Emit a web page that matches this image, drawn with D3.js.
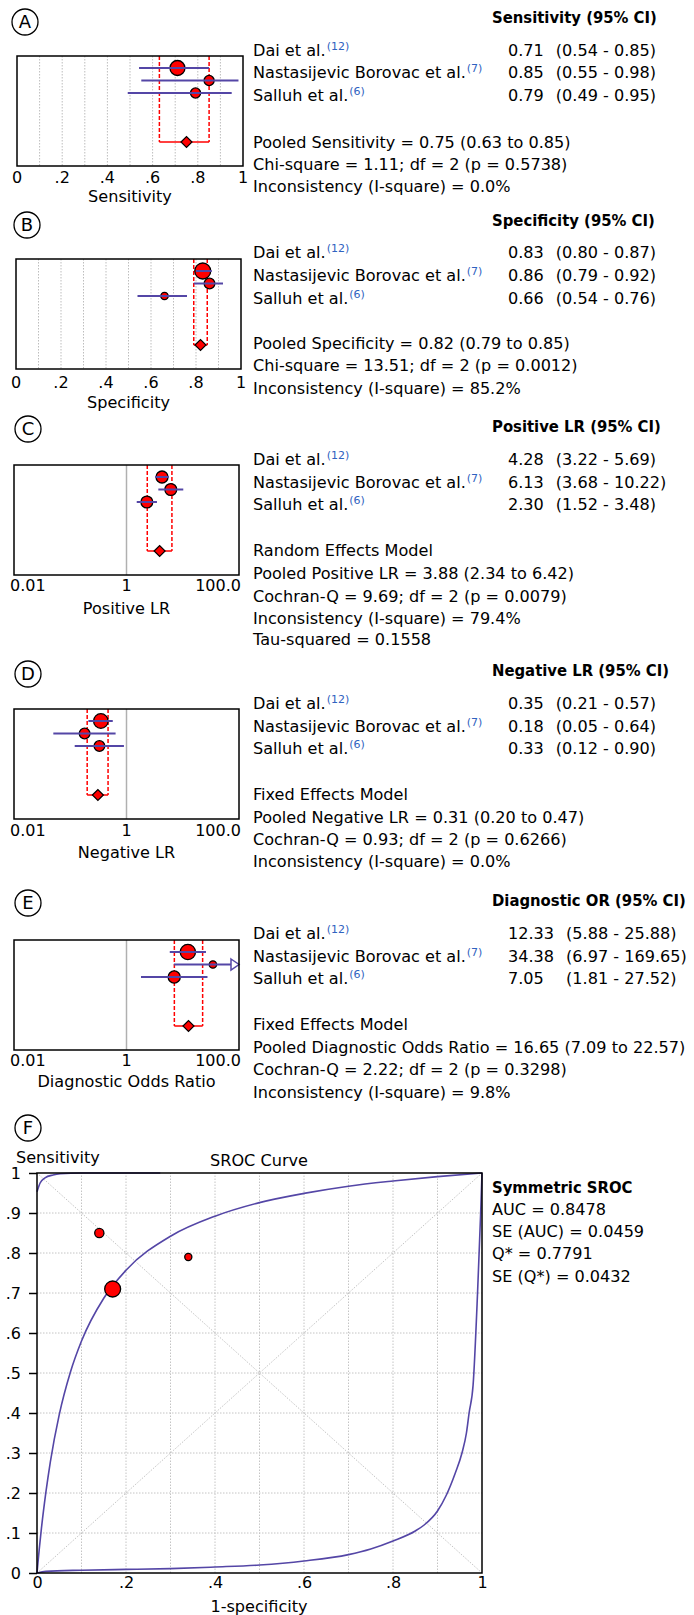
<!DOCTYPE html>
<html><head><meta charset="utf-8">
<script src="https://cdnjs.cloudflare.com/ajax/libs/d3/7.8.5/d3.min.js"></script>
<style>
  body { margin: 0; background: #fff; }
  svg text { font-family: 'DejaVu Sans', sans-serif; font-size: 16.1px; fill: #000; }
  svg text.bold { font-family: 'DejaVu Sans Condensed', 'DejaVu Sans', sans-serif; font-stretch: condensed; font-weight: bold; font-size: 16.5px; }
  svg text.tick, svg .axis text { font-size: 16px; }
</style>
</head>
<body>
<svg id="fig" width="694" height="1615"></svg>
<script>

// ---- data ----
const studies = ["Dai et al.", "Nastasijevic Borovac et al.", "Salluh et al."];
const studyRefs = ["(12)", "(7)", "(6)"];

const sensEst = [0.71, 0.85, 0.79], sensLow = [0.54, 0.55, 0.49], sensHigh = [0.85, 0.98, 0.95];
const sensWeight = [53, 24, 24];
const sensPooled = [0.75, 0.63, 0.85];
const sensStats = ["Pooled Sensitivity = 0.75 (0.63 to 0.85)", "Chi-square = 1.11; df = 2 (p = 0.5738)", "Inconsistency (I-square) = 0.0%"];

const specEst = [0.83, 0.86, 0.66], specLow = [0.80, 0.79, 0.54], specHigh = [0.87, 0.92, 0.76];
const specWeight = [60, 27, 13];
const specPooled = [0.82, 0.79, 0.85];
const specStats = ["Pooled Specificity = 0.82 (0.79 to 0.85)", "Chi-square = 13.51; df = 2 (p = 0.0012)", "Inconsistency (I-square) = 85.2%"];

const plrEst = [4.28, 6.13, 2.30], plrLow = [3.22, 3.68, 1.52], plrHigh = [5.69, 10.22, 3.48];
const plrWeight = [34, 33, 33];
const plrPooled = [3.88, 2.34, 6.42];
const plrStats = ["Random Effects Model", "Pooled Positive LR = 3.88 (2.34 to 6.42)", "Cochran-Q = 9.69; df = 2 (p = 0.0079)", "Inconsistency (I-square) = 79.4%", "Tau-squared = 0.1558"];

const nlrEst = [0.35, 0.18, 0.33], nlrLow = [0.21, 0.05, 0.12], nlrHigh = [0.57, 0.64, 0.90];
const nlrWeight = [50, 27, 27];
const nlrPooled = [0.31, 0.20, 0.47];
const nlrStats = ["Fixed Effects Model", "Pooled Negative LR = 0.31 (0.20 to 0.47)", "Cochran-Q = 0.93; df = 2 (p = 0.6266)", "Inconsistency (I-square) = 0.0%"];

const dorEst = [12.33, 34.38, 7.05], dorLow = [5.88, 6.97, 1.81], dorHigh = [25.88, 169.65, 27.52];
const dorWeight = [55, 13, 35];
const dorPooled = [12.65, 7.09, 22.57];   // diamond sits at ~12.6 in the figure
const dorStats = ["Fixed Effects Model", "Pooled Diagnostic Odds Ratio = 16.65 (7.09 to 22.57)", "Cochran-Q = 2.22; df = 2 (p = 0.3298)", "Inconsistency (I-square) = 9.8%"];

const linTicks = [0, 0.2, 0.4, 0.6, 0.8, 1];
const logTicks = [0.01, 1, 100];
const logTickLabels = ["0.01", "1", "100.0"];

// SROC curves (1-specificity, sensitivity)
const srocFpr  = [0, 0.002, 0.005, 0.01, 0.02, 0.03, 0.05, 0.075, 0.1, 0.15, 0.2, 0.3, 0.4, 0.5, 0.6, 0.7, 0.8, 0.9, 1];
const srocSens = [0, 0.024, 0.059, 0.112, 0.202, 0.278, 0.396, 0.502, 0.58, 0.687, 0.757, 0.842, 0.892, 0.926, 0.949, 0.967, 0.98, 0.991, 1];
const lowFpr  = [0, 0.02, 0.1, 0.2, 0.3, 0.4, 0.5, 0.6, 0.7, 0.75, 0.8, 0.85, 0.87, 0.9, 0.92, 0.94, 0.955, 0.965, 0.971, 0.98, 0.99, 0.997, 1];
const lowSens = [0, 0.004, 0.007, 0.009, 0.011, 0.015, 0.02, 0.03, 0.046, 0.06, 0.08, 0.105, 0.12, 0.155, 0.195, 0.25, 0.3, 0.35, 0.4, 0.47, 0.7, 0.9, 1];
const topFpr  = [0, 0.007, 0.018, 0.036, 0.052, 0.1, 0.277];
const topSens = [0.953, 0.975, 0.988, 0.995, 0.998, 1, 1];
const srocWeight = [60, 20, 12];
const srocTicks = [0, 0.1, 0.2, 0.3, 0.4, 0.5, 0.6, 0.7, 0.8, 0.9, 1];
const srocStats = ["AUC = 0.8478", "SE (AUC) = 0.0459", "Q* = 0.7791", "SE (Q*) = 0.0432"];

// ---- drawing ----
const svg = d3.select("#fig");
const purple = "#5446a6";
const red = "#ff0000";
const rScale = d3.scaleSqrt().domain([0, 100]).range([0, 10.3]);

function tag(letter, cx, cy) {
  svg.append("circle").attr("cx", cx).attr("cy", cy).attr("r", 13)
     .attr("fill", "none").attr("stroke", "#000").attr("stroke-width", 1.3);
  svg.append("text").attr("x", cx).attr("y", cy).attr("dy", "0.36em")
     .attr("text-anchor", "middle").style("font-size", "18px").text(letter);
}

const panels = [
  {tag: "A", head: "Sensitivity (95% CI)", axis: "Sensitivity", est: sensEst, lo: sensLow, hi: sensHigh, w: sensWeight, pooled: sensPooled, stats: sensStats, log: false,
   x0: 17, x1: 243, top: 56, tagPos: [25, 22], headY: 17, rowY: [50, 72, 95], statY: [142, 164, 186], tickY: 177, labelY: 196},
  {tag: "B", head: "Specificity (95% CI)", axis: "Specificity", est: specEst, lo: specLow, hi: specHigh, w: specWeight, pooled: specPooled, stats: specStats, log: false,
   x0: 16, x1: 241, top: 259, tagPos: [27, 225], headY: 220, rowY: [252, 275, 298], statY: [343, 365, 388], tickY: 382, labelY: 402},
  {tag: "C", head: "Positive LR (95% CI)", axis: "Positive LR", est: plrEst, lo: plrLow, hi: plrHigh, w: plrWeight, pooled: plrPooled, stats: plrStats, log: true,
   x0: 14, x1: 239, top: 465, tagPos: [28, 429], headY: 426, rowY: [459, 482, 504], statY: [550, 573, 596, 618, 639], tickY: 585, labelY: 608},
  {tag: "D", head: "Negative LR (95% CI)", axis: "Negative LR", est: nlrEst, lo: nlrLow, hi: nlrHigh, w: nlrWeight, pooled: nlrPooled, stats: nlrStats, log: true,
   x0: 14, x1: 239, top: 709, tagPos: [28, 674], headY: 670, rowY: [703, 726, 748], statY: [794, 817, 839, 861], tickY: 830, labelY: 852},
  {tag: "E", head: "Diagnostic OR (95% CI)", axis: "Diagnostic Odds Ratio", est: dorEst, lo: dorLow, hi: dorHigh, w: dorWeight, pooled: dorPooled, stats: dorStats, log: true,
   x0: 14, x1: 239, top: 940, tagPos: [28, 903], headY: 900, rowY: [933, 956, 978], statY: [1024, 1047, 1069, 1092], tickY: 1060, labelY: 1081}
];

const boxH = 110;
const markY = [12, 24.5, 37];
const diamondY = 86;

panels.forEach(p => {
  tag(p.tag, p.tagPos[0], p.tagPos[1]);
  const g = svg.append("g");
  const x = p.log ? d3.scaleLog().domain([0.01, 100]).range([p.x0, p.x1])
                  : d3.scaleLinear().domain([0, 1]).range([p.x0, p.x1]);
  const yTop = p.top, yBot = p.top + boxH;

  // background grid / reference line
  if (!p.log) {
    g.selectAll("line.grid").data(d3.range(1, 10).map(d => d / 10)).join("line")
      .attr("class", "grid")
      .attr("x1", d => x(d)).attr("x2", d => x(d)).attr("y1", yTop).attr("y2", yBot)
      .attr("stroke", "#bdbdbd").attr("stroke-width", 1).attr("stroke-dasharray", "1.5,1.5");
  } else {
    g.append("line").attr("x1", x(1)).attr("x2", x(1)).attr("y1", yTop).attr("y2", yBot)
      .attr("stroke", "#b0b0b0").attr("stroke-width", 1.5);
  }

  // pooled estimate: dashed CI bounds + diamond
  const dy = yTop + diamondY;
  [p.pooled[1], p.pooled[2]].forEach(v => {
    g.append("line").attr("x1", x(v)).attr("x2", x(v)).attr("y1", yTop).attr("y2", dy)
      .attr("stroke", red).attr("stroke-width", 1.5).attr("stroke-dasharray", "4,2");
  });
  g.append("line").attr("x1", x(p.pooled[1])).attr("x2", x(p.pooled[2])).attr("y1", dy).attr("y2", dy)
    .attr("stroke", red).attr("stroke-width", 1.5);
  const ds = 5.5, dx = x(p.pooled[0]);
  g.append("path").attr("d", `M${dx - ds},${dy}L${dx},${dy - ds}L${dx + ds},${dy}L${dx},${dy + ds}Z`)
    .attr("fill", red).attr("stroke", "#000").attr("stroke-width", 1.2);

  // study markers
  g.selectAll("circle.study").data(p.est).join("circle")
    .attr("class", "study")
    .attr("cx", d => x(d)).attr("cy", (d, i) => yTop + markY[i])
    .attr("r", (d, i) => rScale(p.w[i]))
    .attr("fill", red).attr("stroke", "#000").attr("stroke-width", 1.3);

  // whiskers
  const xmax = x.range()[1];
  p.est.forEach((d, i) => {
    const y = yTop + markY[i];
    const over = p.hi[i] > x.domain()[1];
    g.append("line").attr("x1", x(p.lo[i])).attr("x2", over ? xmax - 7 : x(p.hi[i]))
      .attr("y1", y).attr("y2", y).attr("stroke", purple).attr("stroke-width", 2);
    if (over) {
      g.append("path").attr("d", `M${xmax - 8},${y - 5.5}L${xmax},${y}L${xmax - 8},${y + 5.5}Z`)
        .attr("fill", "#fff").attr("stroke", purple).attr("stroke-width", 1.5);
    }
  });

  // frame
  g.append("rect").attr("x", p.x0).attr("y", yTop).attr("width", p.x1 - p.x0).attr("height", boxH)
    .attr("fill", "none").attr("stroke", "#000").attr("stroke-width", 1.5);

  // ticks
  const ticks = p.log ? logTicks : linTicks;
  g.selectAll("text.tick").data(ticks).join("text")
    .attr("class", "tick")
    .attr("x", (d, i) => p.log ? (i === 0 ? x(d) - 4 : i === ticks.length - 1 ? x(d) + 2 : x(d)) : x(d))
    .attr("y", p.tickY).attr("dy", "0.36em")
    .attr("text-anchor", (d, i) => p.log ? (i === 0 ? "start" : i === ticks.length - 1 ? "end" : "middle") : "middle")
    .text((d, i) => p.log ? logTickLabels[i] : (d === 0 || d === 1 ? String(d) : d3.format(".1f")(d).replace(/^0/, "")));

  g.append("text").attr("x", (p.x0 + p.x1) / 2).attr("y", p.labelY).attr("dy", "0.36em")
    .attr("text-anchor", "middle").text(p.axis);

  // right-hand text
  const t = svg.append("g");
  t.append("text").attr("class", "bold").attr("x", 492).attr("y", p.headY).attr("dy", "0.36em").text(p.head);
  studies.forEach((s, i) => {
    const tx = t.append("text").attr("x", 253).attr("y", p.rowY[i]).attr("dy", "0.36em").text(s);
    tx.append("tspan").attr("dx", 1).attr("dy", "-0.5em").style("font-size", "11px").style("fill", "#2f62c0").text(studyRefs[i]);
  });
  const vals = t.selectAll("text.val").data(p.est).join("text")
    .attr("class", "val").attr("x", 508).attr("y", (d, i) => p.rowY[i]).attr("dy", "0.36em")
    .text(d => d3.format(".2f")(d));
  const maxW = d3.max(vals.nodes(), n => n.getComputedTextLength());
  t.selectAll("text.ci").data(p.est).join("text")
    .attr("class", "ci").attr("x", 508 + maxW + 12).attr("y", (d, i) => p.rowY[i]).attr("dy", "0.36em")
    .text((d, i) => `(${d3.format(".2f")(p.lo[i])} - ${d3.format(".2f")(p.hi[i])})`);
  p.stats.forEach((s, i) => {
    t.append("text").attr("x", 253).attr("y", p.statY[i]).attr("dy", "0.36em").text(s);
  });
});

// ---- SROC panel ----
tag("F", 28, 1128);
const sx = d3.scaleLinear().domain([0, 1]).range([37, 482]);
const sy = d3.scaleLinear().domain([0, 1]).range([1573, 1173]);
const f = svg.append("g");

f.selectAll("line.vg").data(srocTicks.slice(1, -1)).join("line").attr("class", "vg")
  .attr("x1", d => sx(d)).attr("x2", d => sx(d)).attr("y1", sy(0)).attr("y2", sy(1))
  .attr("stroke", "#c4c4c4").attr("stroke-dasharray", "1.5,1.5");
f.selectAll("line.hg").data(srocTicks.slice(1, -1)).join("line").attr("class", "hg")
  .attr("y1", d => sy(d)).attr("y2", d => sy(d)).attr("x1", sx(0)).attr("x2", sx(1))
  .attr("stroke", "#c4c4c4").attr("stroke-dasharray", "1.5,1.5");
f.append("line").attr("x1", sx(0)).attr("y1", sy(0)).attr("x2", sx(1)).attr("y2", sy(1))
  .attr("stroke", "#c4c4c4").attr("stroke-dasharray", "1.5,1.5");
f.append("line").attr("x1", sx(0)).attr("y1", sy(1)).attr("x2", sx(1)).attr("y2", sy(0))
  .attr("stroke", "#c4c4c4").attr("stroke-dasharray", "1.5,1.5");

const line = d3.line().x(d => sx(d[0])).y(d => sy(d[1])).curve(d3.curveMonotoneX);
[[srocFpr, srocSens], [lowFpr, lowSens], [topFpr, topSens]].forEach(([xs, ys]) => {
  f.append("path").attr("d", line(d3.zip(xs, ys)))
    .attr("fill", "none").attr("stroke", purple).attr("stroke-width", 1.6);
});

f.selectAll("circle.pt").data(studies).join("circle").attr("class", "pt")
  .attr("cx", (d, i) => sx(1 - specEst[i])).attr("cy", (d, i) => sy(sensEst[i]))
  .attr("r", (d, i) => rScale(srocWeight[i]))
  .attr("fill", red).attr("stroke", "#000").attr("stroke-width", 1.3);

f.append("rect").attr("x", sx(0)).attr("y", sy(1)).attr("width", sx(1) - sx(0)).attr("height", sy(0) - sy(1))
  .attr("fill", "none").attr("stroke", "#000").attr("stroke-width", 1.5);

const fmt = d => (d === 0 || d === 1) ? String(d) : d3.format(".1f")(d).replace(/^0/, "");
const yAxis = f.append("g").attr("class", "axis").attr("transform", `translate(${sx(0)},0)`)
  .call(d3.axisLeft(sy).tickValues(srocTicks).tickSize(8).tickPadding(8).tickFormat(fmt));
yAxis.select(".domain").remove();
yAxis.selectAll("line").attr("stroke", "#000").attr("stroke-width", 1.5);
yAxis.attr("font-family", null).attr("font-size", null);

const xAxis = f.append("g").attr("class", "axis").attr("transform", `translate(0,${sy(0)})`)
  .call(d3.axisBottom(sx).tickValues([0, 0.2, 0.4, 0.6, 0.8, 1]).tickSize(0).tickPadding(4).tickFormat(fmt));
xAxis.select(".domain").remove();
xAxis.attr("font-family", null).attr("font-size", null);

f.append("text").attr("x", 16).attr("y", 1157).attr("dy", "0.36em").text("Sensitivity");
f.append("text").attr("x", 259).attr("y", 1160).attr("dy", "0.36em").attr("text-anchor", "middle").text("SROC Curve");
f.append("text").attr("x", 259).attr("y", 1606).attr("dy", "0.36em").attr("text-anchor", "middle").text("1-specificity");

f.append("text").attr("class", "bold").attr("x", 492).attr("y", 1187).attr("dy", "0.36em").text("Symmetric SROC");
srocStats.forEach((s, i) => {
  f.append("text").attr("x", 492).attr("y", 1209 + i * 22.3).attr("dy", "0.36em").text(s);
});
</script>
</body></html>
